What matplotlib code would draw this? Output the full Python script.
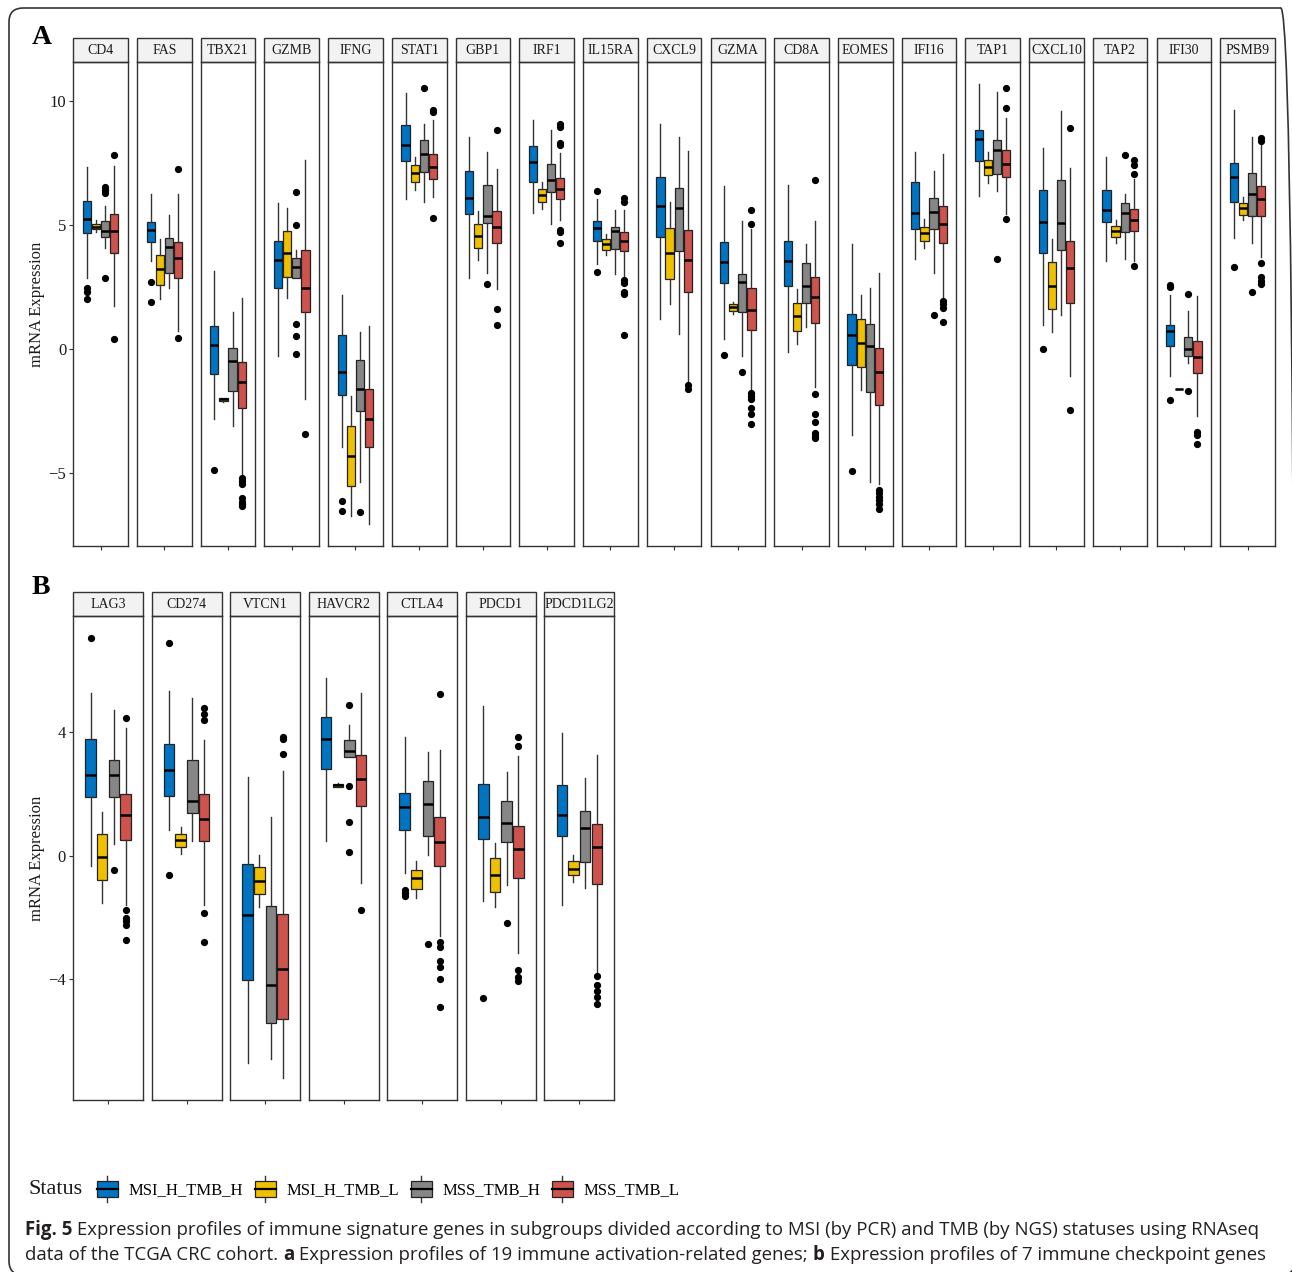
import numpy as np
import matplotlib.pyplot as plt
from matplotlib.patches import Rectangle, FancyBboxPatch
from matplotlib.legend_handler import HandlerBase
from matplotlib.lines import Line2D

W, H = 1292, 1272
SERIF = "Liberation Serif"
SANS = "Open Sans"

groups = ["MSI_H_TMB_H", "MSI_H_TMB_L", "MSS_TMB_H", "MSS_TMB_L"]
colors = ["#0073C2", "#EFC000", "#868686", "#CD534C"]

# ---- panel A: immune activation genes, one row per gene, [blue, yellow, gray, red]
genes_a = ["CD4", "FAS", "TBX21", "GZMB", "IFNG", "STAT1", "GBP1", "IRF1", "IL15RA",
           "CXCL9", "GZMA", "CD8A", "EOMES", "IFI16", "TAP1", "CXCL10", "TAP2",
           "IFI30", "PSMB9"]
a_lo = [[2.85, 4.72, 4.05, 1.71], [3.54, 2.0, 2.45, 0.71], [-2.83, -2.12, -3.1, -5.1],
        [-0.27, 2.05, 2.85, -2.03], [-3.94, -6.71, -5.35, -7.05], [6.02, 6.42, 5.92, 6.1],
        [2.85, 3.58, 3.07, 2.41], [5.49, 5.63, 5.05, 5.2], [3.41, 3.78, 3.02, 2.85],
        [1.22, 1.8, 0.61, -1.36], [0.4, 1.42, -0.29, -1.6], [-0.12, 0.2, 0.87, -1.55],
        [-3.46, -1.67, -5.35, -5.44], [3.61, 4.05, 3.07, 2.1], [6.16, 6.68, 6.35, 5.45],
        [0.98, 0.68, 1.35, -1.07], [3.56, 4.28, 3.64, 3.55], [-1.1, -1.63, -0.56, -2.7],
        [4.48, 5.19, 4.25, 3.7]]
a_q1 = [[4.65, 4.83, 4.49, 3.88], [4.32, 2.58, 3.05, 2.85], [-0.99, -2.08, -1.70, -2.37],
        [2.45, 2.91, 2.85, 1.47], [-1.86, -5.51, -2.5, -3.94], [7.55, 6.72, 7.13, 6.86],
        [5.44, 4.05, 5.08, 4.25], [6.72, 5.9, 6.34, 6.02], [4.34, 3.98, 4.04, 3.94],
        [4.49, 2.83, 3.93, 2.29], [2.65, 1.54, 1.47, 0.78], [2.54, 0.74, 1.84, 1.03],
        [-0.66, -0.72, -1.75, -2.26], [4.85, 4.34, 4.85, 4.25], [7.55, 6.99, 7.06, 6.91],
        [3.88, 1.62, 3.98, 1.87], [5.11, 4.49, 4.69, 4.76], [0.11, -1.63, -0.29, -0.96],
        [5.9, 5.41, 5.37, 5.37]]
a_med = [[5.23, 4.93, 4.75, 4.75], [4.79, 3.21, 4.1, 3.68], [0.17, -2.03, -0.49, -1.32],
         [3.58, 3.85, 3.29, 2.47], [-0.91, -4.3, -1.63, -2.81], [8.2, 7.09, 7.86, 7.33],
         [6.06, 4.56, 5.36, 4.92], [7.53, 6.19, 6.79, 6.46], [4.89, 4.21, 4.75, 4.36],
         [5.76, 3.88, 5.68, 3.58], [3.49, 1.67, 2.69, 1.58], [3.56, 1.31, 2.53, 2.1],
         [0.57, 0.24, 0.13, -0.94], [5.48, 4.68, 5.52, 5.04], [8.45, 7.33, 8.03, 7.45],
         [5.13, 2.55, 5.09, 3.25], [5.59, 4.75, 5.48, 5.21], [0.74, -1.63, 0.0, -0.33],
         [6.91, 5.66, 6.26, 6.03]]
a_q3 = [[5.96, 5.05, 5.16, 5.44], [5.12, 3.8, 4.48, 4.3], [0.91, -1.98, 0.04, -0.52],
        [4.33, 4.77, 3.65, 3.97], [0.57, -3.1, -0.45, -1.63], [9.02, 7.39, 8.42, 7.85],
        [7.18, 5.05, 6.62, 5.57], [8.16, 6.46, 7.43, 6.89], [5.15, 4.43, 4.91, 4.71],
        [6.93, 4.89, 6.47, 4.8], [4.32, 1.8, 3.0, 2.47], [4.36, 1.84, 3.45, 2.89],
        [1.4, 1.2, 1.02, 0.03], [6.72, 4.92, 6.08, 5.76], [8.82, 7.62, 8.4, 8.01],
        [6.42, 3.49, 6.82, 4.36], [6.42, 4.95, 5.86, 5.64], [0.98, -1.63, 0.48, 0.31],
        [7.5, 5.88, 7.09, 6.55]]
a_hi = [[7.33, 5.19, 5.76, 7.37], [6.22, 4.43, 5.39, 6.22], [3.14, -1.98, 1.48, 2.05],
        [5.86, 5.68, 3.98, 7.62], [2.18, -1.9, 0.67, 0.91], [10.32, 7.73, 9.06, 9.24],
        [8.53, 5.55, 7.93, 7.26], [9.24, 6.72, 8.82, 7.9], [6.03, 4.63, 5.59, 5.6],
        [9.06, 5.91, 8.53, 7.97], [6.55, 1.91, 5.16, 4.83], [6.62, 2.41, 4.24, 5.16],
        [4.21, 2.17, 2.47, 3.05], [7.95, 5.24, 7.15, 7.85], [10.67, 7.93, 10.36, 9.3],
        [8.1, 4.43, 9.57, 7.3], [7.73, 5.19, 6.26, 6.85], [2.18, -1.63, 1.51, 2.14],
        [9.64, 6.1, 8.53, 8.25]]
a_out = [[[2.45, 2.3, 2.0], [], [6.52, 6.42, 6.28, 2.85], [7.8, 0.4]],
         [[2.71, 1.9], [], [], [7.23, 0.45]],
         [[-4.88], [], [], [-5.2, -5.3, -5.45, -6.0, -6.15, -6.24, -6.34]],
         [[], [], [6.32, 4.99, 1.0, 0.53, -0.2], [-3.41]],
         [[-6.11, -6.51], [], [-6.55], []],
         [[], [], [10.5], [9.64, 9.53, 5.29]],
         [[], [], [2.61], [8.82, 1.6, 0.95]],
         [[], [], [], [9.06, 8.95, 8.3, 8.2, 4.8, 4.7, 4.28]],
         [[6.38, 3.11], [], [], [6.08, 5.9, 2.78, 2.65, 2.31, 2.2, 0.57]],
         [[], [], [], [-1.47, -1.6]],
         [[-0.23], [], [-0.94], [5.59, 5.04, -1.79, -1.9, -2.0, -2.37, -2.63, -3.03]],
         [[], [], [], [6.8, -1.82, -2.61, -2.94, -3.4, -3.5, -3.6]],
         [[-4.92], [], [], [-5.67, -5.8, -5.95, -6.1, -6.25, -6.45]],
         [[], [], [1.38], [1.95, 1.82, 1.63, 1.07]],
         [[], [], [3.61], [10.5, 9.72, 5.23]],
         [[0.0], [], [], [8.89, -2.47]],
         [[], [], [7.83], [7.62, 7.42, 7.03, 3.34]],
         [[2.58, 2.49, -2.07], [], [2.21, -1.7], [-3.34, -3.48, -3.81]],
         [[3.28], [], [2.31], [8.5, 8.38, 3.45, 2.89, 2.75, 2.62]]]

# ---- panel B: immune checkpoint genes
genes_b = ["LAG3", "CD274", "VTCN1", "HAVCR2", "CTLA4", "PDCD1", "PDCD1LG2"]
b_lo = [[-0.33, -1.53, 0.37, -1.6], [0.81, 0.06, 0.47, -1.6], [-6.69, -1.67, -6.56, -7.19],
        [0.48, 2.2, 3.2, -0.89], [-0.56, -1.37, 0.02, -2.6], [-1.48, -1.67, -0.94, -3.14],
        [-1.61, -0.86, -1.06, -3.75]]
b_q1 = [[1.89, -0.8, 1.89, 0.49], [1.92, 0.28, 1.37, 0.46], [-4.02, -1.24, -5.41, -5.28],
        [2.8, 2.22, 3.2, 1.59], [0.81, -1.08, 0.64, -0.34], [0.54, -1.17, 0.43, -0.72],
        [0.63, -0.63, -0.2, -0.92]]
b_med = [[2.6, -0.04, 2.6, 1.3], [2.77, 0.5, 1.77, 1.18], [-1.92, -0.81, -4.2, -3.67],
         [3.76, 2.27, 3.39, 2.48], [1.58, -0.74, 1.67, 0.44], [1.24, -0.62, 1.06, 0.2],
         [1.32, -0.42, 0.89, 0.27]]
b_q3 = [[3.76, 0.69, 3.08, 1.99], [3.61, 0.71, 3.1, 1.99], [-0.29, -0.37, -1.64, -1.88],
        [4.49, 2.32, 3.74, 3.26], [2.02, -0.47, 2.41, 1.24], [2.31, -0.09, 1.77, 0.97],
        [2.28, -0.19, 1.43, 1.01]]
b_hi = [[5.24, 1.41, 4.69, 4.13], [5.33, 0.92, 5.09, 3.74], [2.54, 0.03, 1.26, 2.72],
        [5.74, 2.34, 4.21, 5.26], [3.83, -0.18, 3.36, 3.4], [4.82, 0.42, 2.71, 3.22],
        [3.97, 0.02, 2.5, 3.26]]
b_out = [[[7.03], [], [-0.47], [4.44, -1.75, -2.02, -2.13, -2.24, -2.74]],
         [[6.88, -0.64], [], [], [4.76, 4.56, 4.37, -1.87, -2.81]],
         [[], [], [], [3.83, 3.76, 3.28]],
         [[], [], [4.87, 2.24, 1.09, 0.13], [-1.76]],
         [[-1.11, -1.22, -1.31], [], [-2.87], [5.22, -2.78, -2.97, -3.42, -3.61, -3.98, -4.89]],
         [[-4.61], [], [-2.17], [3.83, 3.53, -3.7, -3.94, -4.06]],
         [[], [], [], [-3.89, -4.17, -4.39, -4.56, -4.8]]]


def data_range(lo, hi, out):
    vals = [v for row in lo for v in row] + [v for row in hi for v in row]
    vals += [v for g in out for grp in g for v in grp]
    mn, mx = min(vals), max(vals)
    pad = 0.05 * (mx - mn)
    return mn - pad, mx + pad


def draw_row(fig, genes, lo, q1, med, q3, hi, out, left, pitch, width, top, bottom,
             strip_h, yticks):
    ylim = data_range(lo, hi, out)
    offsets = np.array([-0.3, -0.1, 0.1, 0.3])
    axes = []
    for i, g in enumerate(genes):
        ax = fig.add_axes([(left + i * pitch) / W, 1 - bottom / H, width / W, (bottom - top) / H])
        stats = [dict(whislo=lo[i][k], q1=q1[i][k], med=med[i][k], q3=q3[i][k],
                      whishi=hi[i][k], fliers=out[i][k]) for k in range(4)]
        bp = ax.bxp(stats, positions=1 + offsets, widths=0.18, patch_artist=True,
                    showcaps=False, manage_ticks=False,
                    boxprops=dict(edgecolor="#222222", linewidth=0.9),
                    medianprops=dict(color="black", linewidth=1.8),
                    whiskerprops=dict(color="#333333", linewidth=1.0),
                    flierprops=dict(marker="o", markersize=4.2, markerfacecolor="black",
                                    markeredgecolor="black"))
        for patch, c in zip(bp["boxes"], colors):
            patch.set_facecolor(c)
        ax.set_xlim(0.4, 1.6)
        ax.set_ylim(*ylim)
        ax.set_xticks([1])
        ax.set_xticklabels([])
        ax.tick_params(axis="x", length=3, width=0.8, color="#333333")
        if i == 0:
            ax.set_yticks(yticks)
            ax.tick_params(axis="y", length=3, width=0.8, color="#333333",
                           labelsize=12, pad=2, labelcolor="#1A1A1A")
            for lab in ax.get_yticklabels():
                lab.set_family(SERIF)
        else:
            ax.set_yticks([])
        for sp in ax.spines.values():
            sp.set_color("#333333")
            sp.set_linewidth(1.0)
        sh = strip_h / (bottom - top)
        ax.add_patch(Rectangle((0, 1), 1, sh, transform=ax.transAxes, clip_on=False,
                               facecolor="#F2F2F2", edgecolor="#333333", linewidth=1.0))
        ax.text(0.5, 1 + sh / 2, g, transform=ax.transAxes, ha="center", va="center",
                fontsize=10, family=SERIF, color="#1A1A1A")
        axes.append(ax)
    return axes


class BoxKey(HandlerBase):
    def create_artists(self, legend, orig_handle, xdescent, ydescent, width, height,
                       fontsize, trans):
        x0, y0 = -xdescent, -ydescent
        bh = height * 0.64
        by = y0 + (height - bh) / 2
        rect = Rectangle((x0, by), width, bh, facecolor=orig_handle.get_color(),
                         edgecolor="#222222", linewidth=0.9, transform=trans)
        cx = x0 + width / 2
        med = Line2D([x0, x0 + width], [by + bh / 2] * 2, color="black", lw=1.6, transform=trans)
        w1 = Line2D([cx, cx], [y0, by], color="#333333", lw=1.0, transform=trans)
        w2 = Line2D([cx, cx], [by + bh, y0 + height], color="#333333", lw=1.0, transform=trans)
        return [w1, w2, rect, med]


def text_runs(fig, x, y, runs, size):
    r = fig.canvas.get_renderer()
    for s, weight in runs:
        t = fig.text(x / W, 1 - y / H, s, fontsize=size, fontweight=weight, family=SANS,
                     ha="left", va="baseline", color="#231F20")
        x += t.get_window_extent(r).width


def runs_width(fig, runs, size):
    r = fig.canvas.get_renderer()
    tot = 0
    for s, weight in runs:
        t = fig.text(0, 0, s, fontsize=size, fontweight=weight, family=SANS)
        tot += t.get_window_extent(r).width
        t.remove()
    return tot


fig = plt.figure(figsize=(W / 100, H / 100), dpi=100)

fig.patches.append(FancyBboxPatch((9 / W, 1 - 1275 / H), 1286 / W, 1267 / H,
                                  boxstyle="round,pad=0,rounding_size=0.011",
                                  transform=fig.transFigure, fill=False,
                                  edgecolor="#333333", linewidth=1.2))

draw_row(fig, genes_a, a_lo, a_q1, a_med, a_q3, a_hi, a_out,
         left=73.3, pitch=63.72, width=54.6, top=62, bottom=546, strip_h=24,
         yticks=[-5, 0, 5, 10])
draw_row(fig, genes_b, b_lo, b_q1, b_med, b_q3, b_hi, b_out,
         left=73, pitch=78.55, width=70, top=616, bottom=1100, strip_h=24,
         yticks=[-4, 0, 4])

fig.text(37 / W, 1 - 304 / H, "mRNA Expression", rotation=90, ha="center", va="center",
         fontsize=12, family=SERIF, color="#1A1A1A")
fig.text(37 / W, 1 - 858 / H, "mRNA Expression", rotation=90, ha="center", va="center",
         fontsize=12, family=SERIF, color="#1A1A1A")
fig.text(42 / W, 1 - 37 / H, "A", ha="center", va="center", fontsize=20,
         fontweight="bold", family=SERIF)
fig.text(41 / W, 1 - 587 / H, "B", ha="center", va="center", fontsize=20,
         fontweight="bold", family=SERIF)

# legend
fig.text(28 / W, 1 - 1189 / H, "Status", ha="left", va="center", fontsize=16, family=SERIF,
         color="#1A1A1A")
handles = [Line2D([], [], color=c) for c in colors]
fig.legend(handles, groups, loc="center left", bbox_to_anchor=(97 / W, 1 - 1189 / H),
           ncol=4, frameon=False, borderpad=0, borderaxespad=0,
           handler_map={Line2D: BoxKey()}, handlelength=1.25, handleheight=2.0,
           handletextpad=0.65, columnspacing=0.7,
           prop=dict(family=SERIF, size=12.0))

# caption
line1 = [("Fig. 5", "bold"),
         (" Expression profiles of immune signature genes in subgroups divided according "
          "to MSI (by PCR) and TMB (by NGS) statuses using RNAseq", "normal")]
line2 = [("data of the TCGA CRC cohort. ", "normal"), ("a", "bold"),
         (" Expression profiles of 19 immune activation-related genes; ", "normal"),
         ("b", "bold"), (" Expression profiles of 7 immune checkpoint genes", "normal")]
base = 12.0
cap_size = min(base * 1238 / runs_width(fig, line1, base),
               base * 1235 / runs_width(fig, line2, base))
text_runs(fig, 25, 1235, line1, cap_size)
text_runs(fig, 25, 1260, line2, cap_size)

fig.savefig("out.png", dpi=100)
